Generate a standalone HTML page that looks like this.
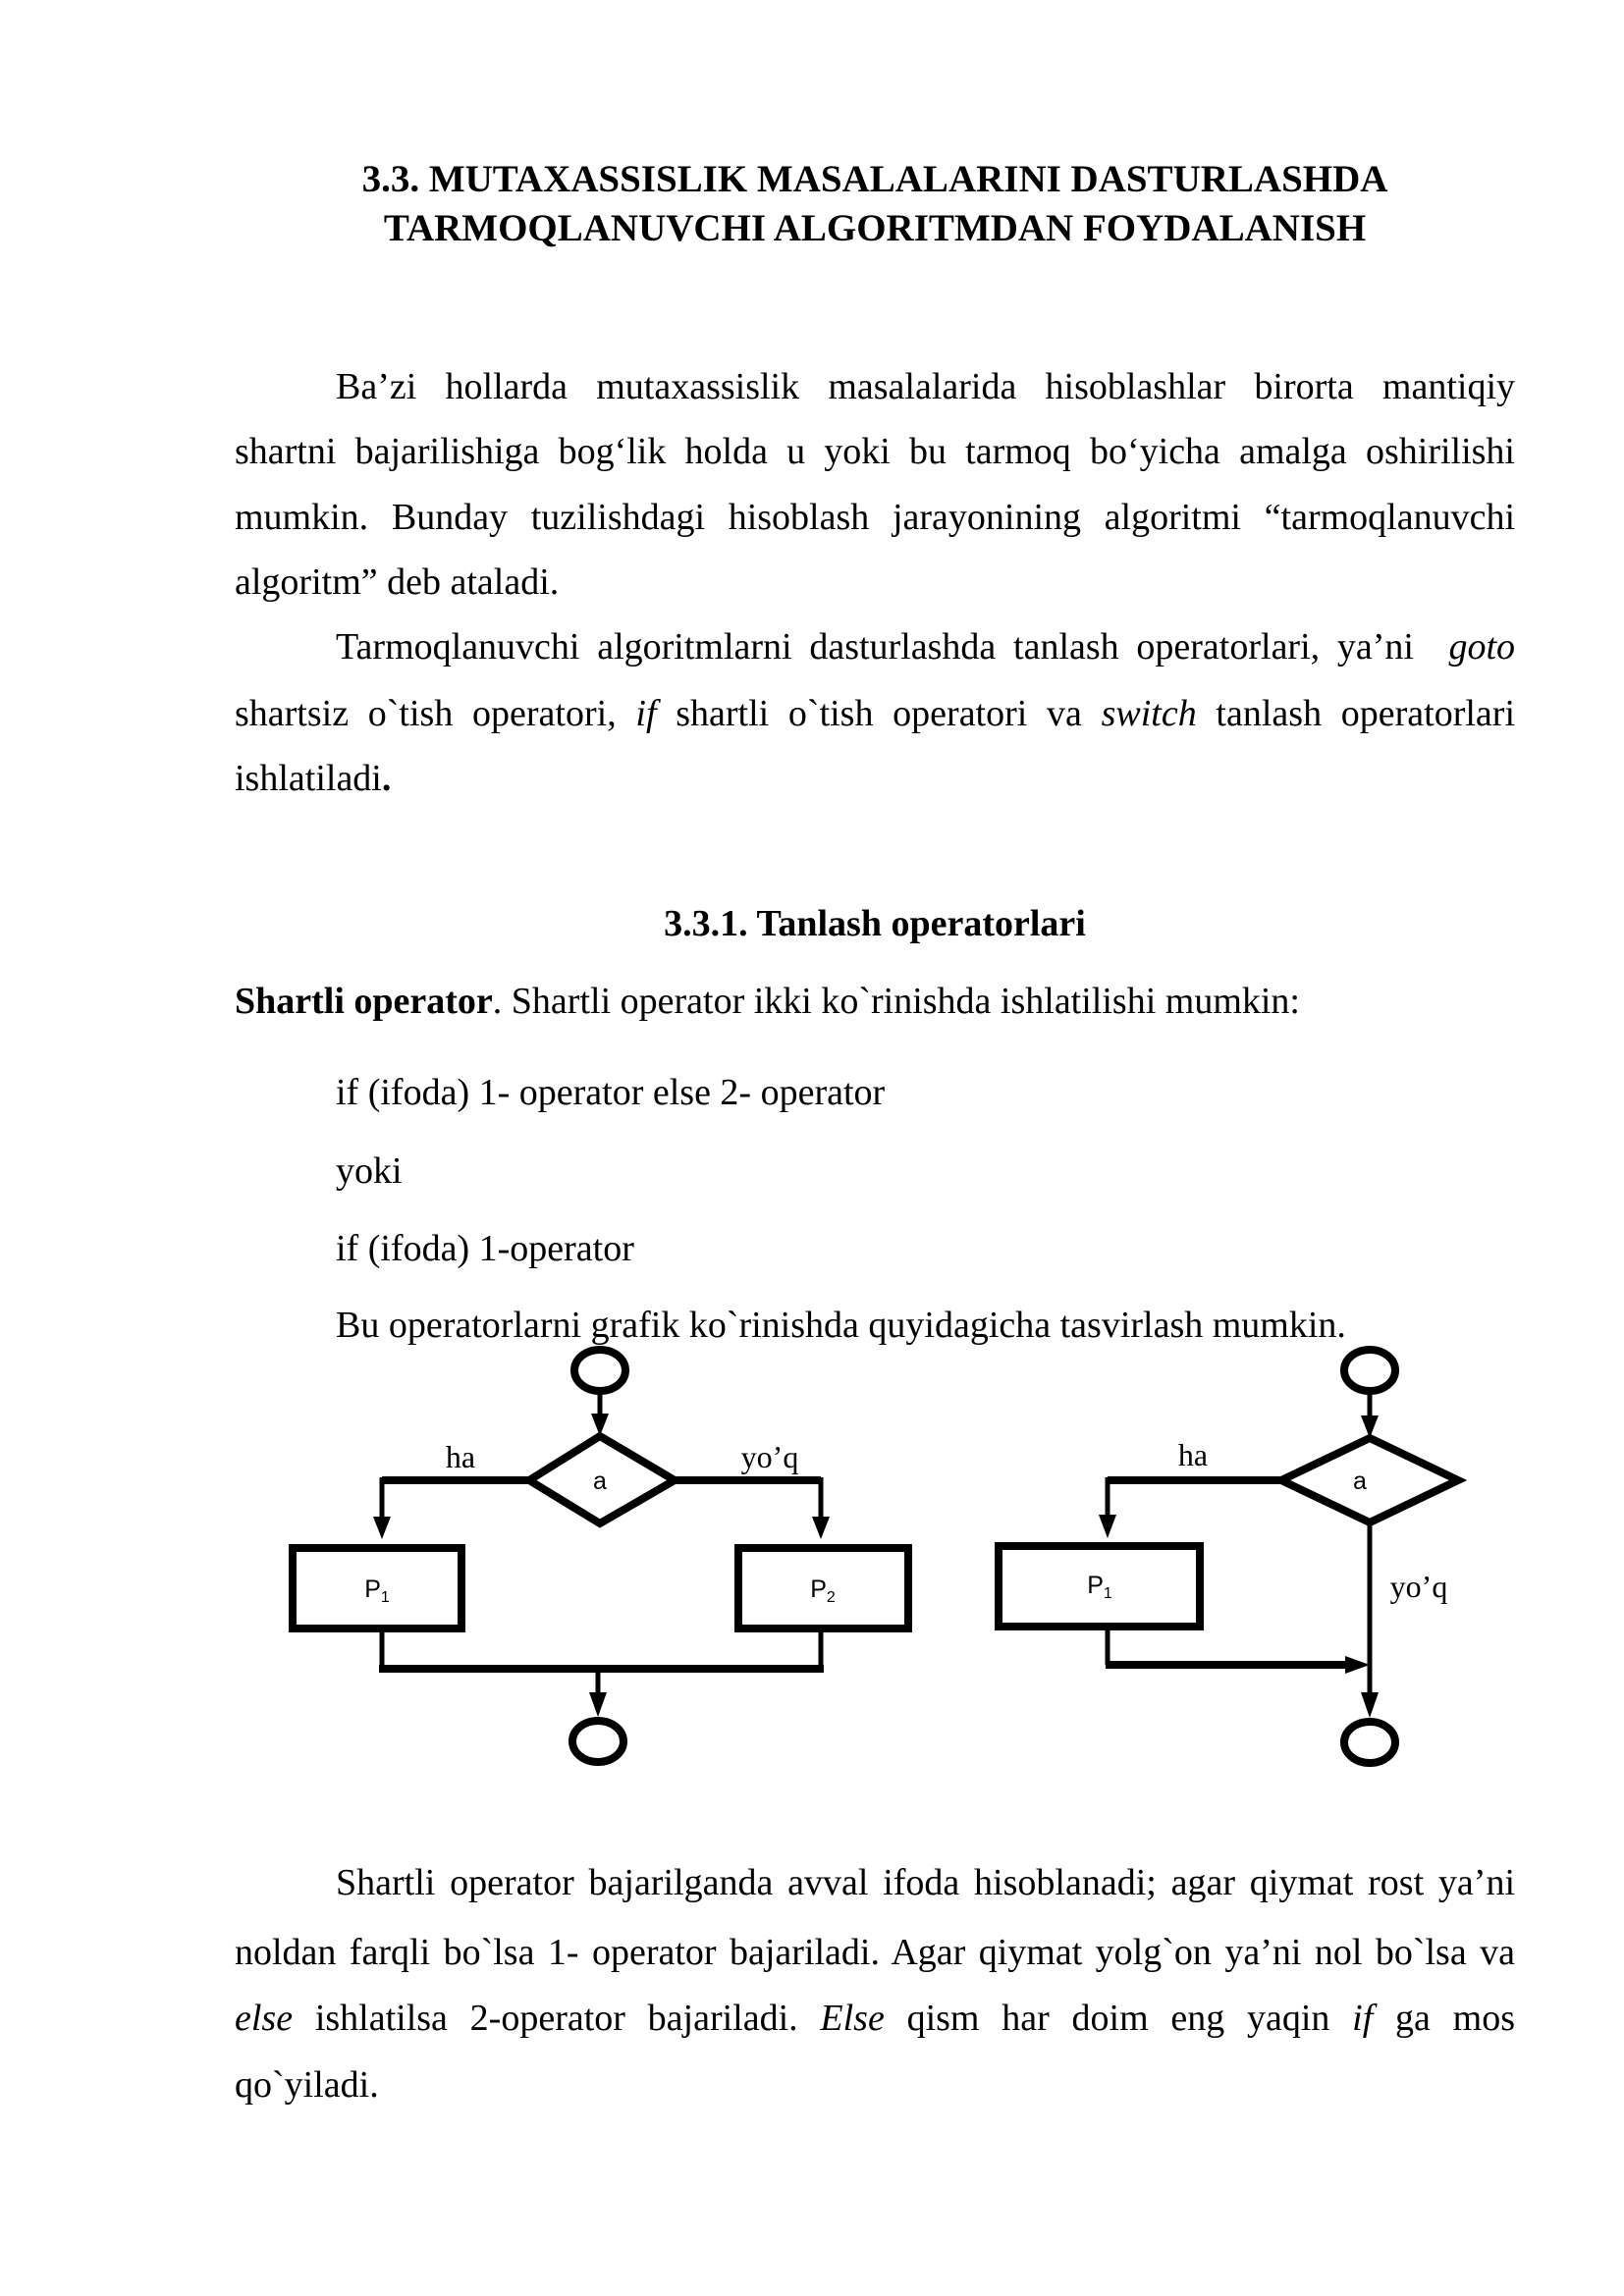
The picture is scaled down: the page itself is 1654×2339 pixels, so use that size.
<!DOCTYPE html>
<html><head><meta charset="utf-8"><style>
body{margin:0;background:#fff;}
.pg{position:relative;width:1654px;height:2339px;overflow:hidden;font-family:"Liberation Serif",serif;color:#000;}
.l{position:absolute;font-size:38px;line-height:54px;white-space:nowrap;}
.j{text-align:justify;text-align-last:justify;white-space:normal;}
.b{font-weight:bold;}
.t{position:absolute;left:0;width:1782px;text-align:center;font-weight:bold;font-size:39px;line-height:50px;}
svg{position:absolute;left:0;top:0;}
</style></head><body><div class="pg">
<div class="t" style="top:158px">3.3. MUTAXASSISLIK MASALALARINI DASTURLASHDA</div>
<div class="t" style="top:208px">TARMOQLANUVCHI ALGORITMDAN FOYDALANISH</div>

<div class="l j" style="left:342px;width:1201px;top:367px">Ba’zi hollarda mutaxassislik masalalarida hisoblashlar birorta mantiqiy</div>
<div class="l j" style="left:239px;width:1304px;top:433px">shartni bajarilishiga bog‘lik holda u yoki bu tarmoq bo‘yicha amalga oshirilishi</div>
<div class="l j" style="left:239px;width:1304px;top:500px">mumkin. Bunday tuzilishdagi hisoblash jarayonining algoritmi “tarmoqlanuvchi</div>
<div class="l" style="left:239px;top:566px">algoritm” deb ataladi.</div>
<div class="l j" style="left:342px;width:1201px;top:632px">Tarmoqlanuvchi algoritmlarni dasturlashda tanlash operatorlari, ya’ni &nbsp;<i>goto</i></div>
<div class="l j" style="left:239px;width:1304px;top:700px">shartsiz o`tish operatori, <i>if</i> shartli o`tish operatori va <i>switch</i> tanlash operatorlari</div>
<div class="l" style="left:239px;top:766px">ishlatiladi<b>.</b></div>

<div class="l b" style="left:0;width:1782px;text-align:center;top:914px">3.3.1. Tanlash operatorlari</div>
<div class="l" style="left:239px;top:993px"><b>Shartli operator</b>. Shartli operator ikki ko`rinishda ishlatilishi mumkin:</div>
<div class="l" style="left:342px;top:1086px">if (ifoda) 1- operator else 2- operator</div>
<div class="l" style="left:342px;top:1166px">yoki</div>
<div class="l" style="left:342px;top:1245px">if (ifoda) 1-operator</div>
<div class="l" style="left:342px;top:1323px">Bu operatorlarni grafik ko`rinishda quyidagicha tasvirlash mumkin.</div>

<svg width="1654" height="2339" viewBox="0 0 1654 2339">
<g transform="translate(0,-7)">
<g fill="none" stroke="#000" stroke-width="8">
<ellipse cx="611" cy="1403" rx="26" ry="21"/>
<line x1="611" y1="1425" x2="611" y2="1450" stroke-width="5"/>
<polygon points="539,1515 611,1470 687,1515 611,1559"/>
<line x1="389" y1="1515" x2="539" y2="1515"/>
<line x1="687" y1="1515" x2="836" y2="1515"/>
<line x1="389" y1="1512" x2="389" y2="1556" stroke-width="5"/>
<line x1="836" y1="1512" x2="836" y2="1556" stroke-width="5"/>
<rect x="298" y="1584" width="172" height="82"/>
<rect x="752" y="1584" width="173" height="82"/>
<line x1="389" y1="1666" x2="389" y2="1707" stroke-width="5"/>
<line x1="836" y1="1666" x2="836" y2="1707" stroke-width="5"/>
<line x1="386" y1="1707" x2="839" y2="1707"/>
<line x1="609" y1="1707" x2="609" y2="1735" stroke-width="5"/>
<ellipse cx="609" cy="1781" rx="26" ry="21"/>
<ellipse cx="1395" cy="1403" rx="26" ry="21"/>
<line x1="1395" y1="1425" x2="1395" y2="1450" stroke-width="5"/>
<polygon points="1305,1515 1395,1472 1485,1515 1395,1558"/>
<line x1="1128" y1="1515" x2="1305" y2="1515"/>
<line x1="1128" y1="1512" x2="1128" y2="1556" stroke-width="5"/>
<rect x="1017" y="1582" width="205" height="82"/>
<line x1="1128" y1="1664" x2="1128" y2="1703" stroke-width="5"/>
<line x1="1126" y1="1703" x2="1374" y2="1703"/>
<line x1="1395" y1="1558" x2="1395" y2="1735" stroke-width="5"/>
<ellipse cx="1395" cy="1782" rx="26" ry="21"/>
</g>
<g fill="#000">
<polygon points="602,1447 620,1447 611,1470"/>
<polygon points="380,1552 398,1552 389,1575"/>
<polygon points="827,1552 845,1552 836,1575"/>
<polygon points="600,1731 618,1731 609,1756"/>
<polygon points="1386,1449 1404,1449 1395,1472"/>
<polygon points="1119,1550 1137,1550 1128,1574"/>
<polygon points="1370,1694 1370,1712 1395,1703"/>
<polygon points="1386,1731 1404,1731 1395,1757"/>
</g>
<g font-family="Liberation Serif,serif" font-size="32" fill="#000">
<text x="469" y="1502" text-anchor="middle">ha</text>
<text x="784" y="1502" text-anchor="middle">yo’q</text>
<text x="1215" y="1500" text-anchor="middle">ha</text>
<text x="1445" y="1634" text-anchor="middle">yo’q</text>
</g>
<g font-family="Liberation Sans,sans-serif" font-size="25" fill="#000">
<text x="611" y="1524" text-anchor="middle">a</text>
<text x="1385" y="1524" text-anchor="middle">a</text>
<text x="384" y="1634" text-anchor="middle">P<tspan font-size="16" dy="5">1</tspan></text>
<text x="838" y="1634" text-anchor="middle">P<tspan font-size="16" dy="5">2</tspan></text>
<text x="1120" y="1630" text-anchor="middle">P<tspan font-size="16" dy="5">1</tspan></text>
</g>
</g>
</svg>

<div class="l j" style="left:342px;width:1201px;top:1891px">Shartli operator bajarilganda avval ifoda hisoblanadi; agar qiymat rost ya’ni</div>
<div class="l j" style="left:239px;width:1304px;top:1962px">noldan farqli bo`lsa 1- operator bajariladi. Agar qiymat yolg`on ya’ni nol bo`lsa va</div>
<div class="l j" style="left:239px;width:1304px;top:2029px"><i>else</i> ishlatilsa 2-operator bajariladi. <i>Else</i> qism har doim eng yaqin <i>if</i> ga mos</div>
<div class="l" style="left:239px;top:2097px">qo`yiladi.</div>
</div></body></html>
